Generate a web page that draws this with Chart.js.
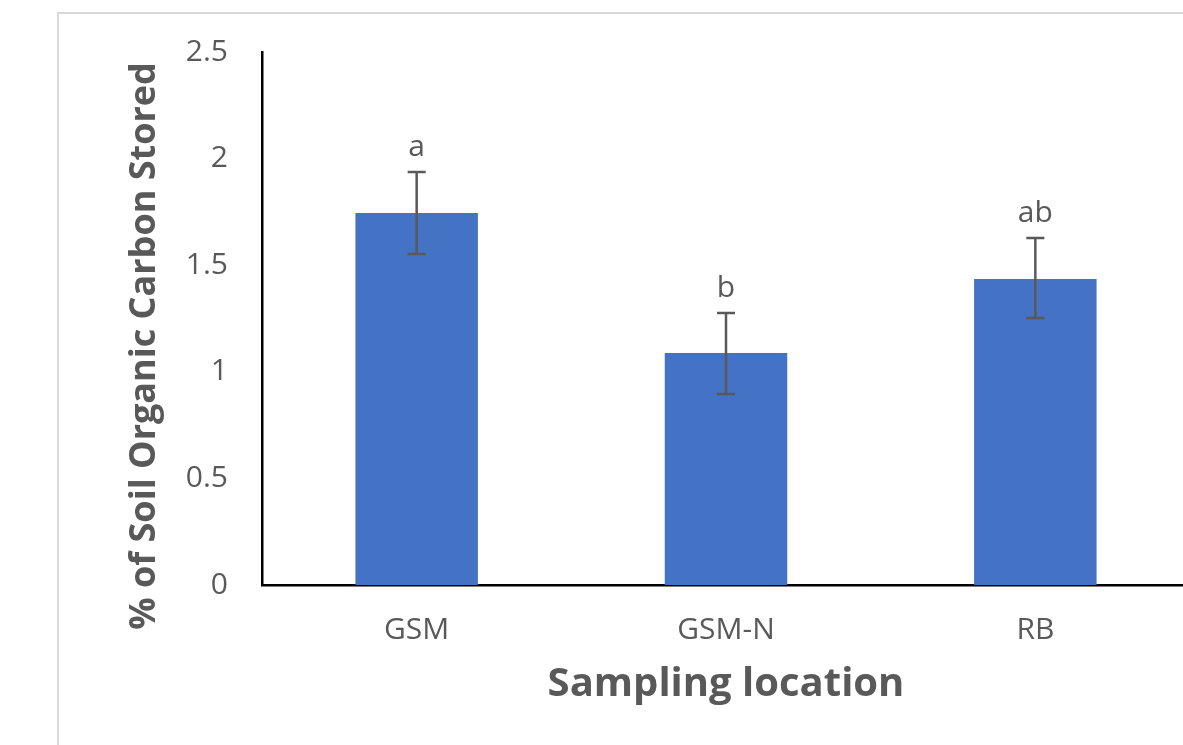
<!DOCTYPE html>
<html>
<head>
<meta charset="utf-8">
<script src="https://cdn.jsdelivr.net/npm/chart.js@4/dist/chart.umd.min.js"></script>
<style>
  html, body { margin: 0; padding: 0; background: #fff; overflow: hidden; width: 1183px; height: 745px; }
  #wrap { position: absolute; left: 0; top: 0; width: 1270px; height: 745px; }
  #frame { position: absolute; left: 57px; top: 12px; width: 1300px; height: 800px;
           border-left: 2px solid #d9d9d9; border-top: 2px solid #d9d9d9; box-sizing: border-box; }
  canvas { position: absolute; left: 0; top: 0; }
</style>
</head>
<body>
<div id="frame"></div>
<div id="wrap"><canvas id="c" width="1270" height="745"></canvas></div>
<script>
const categories = ['GSM', 'GSM-N', 'RB'];
const soc = [1.745, 1.088, 1.435];
const errPlus = [0.192, 0.188, 0.193];
const errMinus = [0.192, 0.192, 0.183];
const letters = ['a', 'b', 'ab'];
const yTickLabels = ['0', '0.5', '1', '1.5', '2', '2.5'];
const yTitle = '% of Soil Organic Carbon Stored';
const xTitle = 'Sampling location';

const FONT = "'Open Sans', 'Noto Sans', sans-serif";
const GRAY = '#595959';

const errorBars = {
  id: 'errorBars',
  afterDatasetsDraw(chart) {
    const ctx = chart.ctx;
    const y = chart.scales.y;
    const meta = chart.getDatasetMeta(0);
    ctx.save();
    ctx.strokeStyle = GRAY;
    ctx.lineWidth = 2.5;
    meta.data.forEach((bar, i) => {
      const x = bar.x;
      const top = y.getPixelForValue(soc[i] + errPlus[i]);
      const bot = y.getPixelForValue(soc[i] - errMinus[i]);
      ctx.beginPath();
      ctx.moveTo(x, top); ctx.lineTo(x, bot);
      ctx.moveTo(x - 9, top); ctx.lineTo(x + 9, top);
      ctx.moveTo(x - 9, bot); ctx.lineTo(x + 9, bot);
      ctx.stroke();
      ctx.fillStyle = GRAY;
      ctx.font = '30px ' + FONT;
      ctx.textAlign = 'center';
      ctx.textBaseline = 'alphabetic';
      ctx.fillText(letters[i], x, top - 16);
    });
    // rotated y-axis title
    ctx.translate(145, 346);
    ctx.rotate(-Math.PI / 2);
    ctx.font = 'bold 36px ' + FONT;
    ctx.fillStyle = GRAY;
    ctx.textAlign = 'center';
    ctx.textBaseline = 'middle';
    ctx.fillText(yTitle, 0, 0);
    ctx.restore();
  }
};

new Chart(document.getElementById('c'), {
  type: 'bar',
  data: {
    labels: categories,
    datasets: [{
      data: soc,
      backgroundColor: '#4472C4',
      borderWidth: 0,
      categoryPercentage: 0.4,
      barPercentage: 0.99
    }]
  },
  options: {
    responsive: false,
    animation: false,
    layout: { padding: { left: 0, top: 52, right: 80, bottom: 0 } },
    plugins: { legend: { display: false }, tooltip: { enabled: false } },
    scales: {
      x: {
        grid: { display: false, drawTicks: false },
        border: { display: true, color: '#000', width: 2.5 },
        ticks: { color: GRAY, font: { family: FONT, size: 30 }, padding: 27, maxRotation: 0 },
        title: { display: true, text: xTitle, color: GRAY,
                 font: { family: FONT, size: 40, weight: 'bold' }, padding: { top: 0, bottom: 36 } },
        afterFit(s) { s.height = 160; }
      },
      y: {
        min: 0, max: 2.5,
        grid: { display: false, drawTicks: false },
        border: { display: true, color: '#000', width: 2.5 },
        ticks: { stepSize: 0.5, color: GRAY, font: { family: FONT, size: 30 }, padding: 34,
                 callback: (v, i) => yTickLabels[i] },
        afterFit(s) { s.width = 262; }
      }
    }
  },
  plugins: [errorBars]
});
</script>
</body>
</html>
